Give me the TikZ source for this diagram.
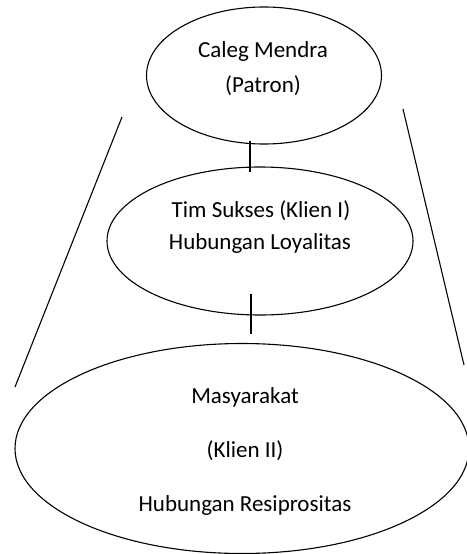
\documentclass[tikz,border=0pt]{standalone}
\usepackage{fontspec}
\setmainfont{Carlito}
\usetikzlibrary{shapes.geometric,calc}
\begin{document}
\begin{tikzpicture}[x=1pt,y=-1pt,
  oval/.style={draw=black,line width=1.1pt,ellipse,inner sep=0pt,fill=none},
  lbl/.style={anchor=base,inner sep=0pt,font=\fontsize{23}{27}\selectfont,text=black},
  link/.style={draw=black,line width=1.1pt}]
\useasboundingbox (0,0) rectangle (466,554);
% ellipses
\node[oval,minimum width=235pt,minimum height=137pt] (top) at (264,75.5) {};
\node[oval,minimum width=306pt,minimum height=148pt] (mid) at (260,241) {};
\node[oval,minimum width=454pt,minimum height=210pt] (bot) at (242,448.5) {};
% texts
\node[lbl] (t1) at (263,57) {Caleg Mendra};
\node[lbl] (t2) at (263,92) {(Patron)};
\node[lbl] (m1) at (261,217) {Tim Sukses (Klien I)};
\node[lbl] (m2) at (260,249) {Hubungan Loyalitas};
\node[lbl] (b1) at (245,403) {Masyarakat};
\node[lbl] (b2) at (245,457) {(Klien II)};
\node[lbl] (b3) at (245,511) {Hubungan Resiprositas};
% connectors
\draw[link] ($(top.south)+(-14,-4)$) -- ($(mid.north)+(-10,6)$);
\draw[link] ($(mid.south)+(-9,-22)$) -- ($(bot.north)+(9,-9)$);
% side lines
\coordinate (lt) at (122,117);
\coordinate (lb) at (15,387);
\coordinate (rt) at (403,109);
\coordinate (rb) at (464,365);
\draw[link] (lt) -- (lb);
\draw[link] (rt) -- (rb);
\end{tikzpicture}
\end{document}
